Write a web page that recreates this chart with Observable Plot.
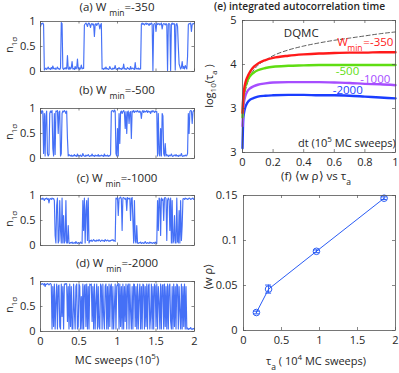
<!DOCTYPE html>
<html><head><meta charset="utf-8">
<script src="https://cdn.jsdelivr.net/npm/d3@7"></script>
<script src="https://cdn.jsdelivr.net/npm/@observablehq/plot@0.6"></script>
<style>
body{margin:0;background:#fff;}
#fig{position:relative;width:399px;height:373px;overflow:hidden;font-family:"Open Sans",sans-serif;color:#262626;}
#fig svg{position:absolute;overflow:visible;}
.abs{position:absolute;white-space:nowrap;font-size:11px;line-height:13px;}
.rot{transform:translate(-50%,-50%) rotate(-90deg);}
.sub{font-size:8.5px;position:relative;top:5px;}
.sup{font-size:8px;position:relative;top:-5px;}
</style></head><body><div id="fig"></div>
<script>
// ---------- data ----------
const tsXTicks = [0, 0.5, 1, 1.5, 2];
const tsXLabels = ["0", "0.5", "1", "1.5", "2"];
const tsYTicks = [0, 0.5, 1];
const tsYLabels = ["0", "0.5", "1"];
const panelTitles = ["(a) W", "(b) W", "(c) W", "(d) W"];
const panelWmin = ["=-350", "=-500", "=-1000", "=-2000"];

// n_1sigma time series, sampled every 0.01 x 10^5 MC sweeps (0..2)
const nA = [0.9,0.96,0.95,0.97,0.94,0.03,
0.05,0.07,0.04,0.06,0.09,0.05,0.06,0.04,0.08,0.05,0.11,0.06,0.05,0.07,0.04,0.06,0.09,0.05,0.06,0.04,0.07,
0.98,0.96,
0.06,0.04,0.07,0.05,0.08,0.05,0.32,0.06,0.04,0.09,0.05,0.07,0.2,0.05,0.06,0.04,0.1,0.05,0.07,0.25,0.05,0.08,0.04,0.06,0.13,0.05,0.07,0.06,
0.93,0.95,0.97,0.94,0.9,0.96,0.97,0.94,0.88,0.95,0.96,0.93,0.95,0.7,0.94,0.96,0.92,0.95,0.97,0.94,0.85,0.93,0.96,
0.05,0.06,0.04,0.07,0.05,0.09,0.05,0.06,0.04,0.05,0.1,0.06,0.05,0.04,0.07,0.05,0.06,0.12,0.05,0.04,0.06,0.05,0.08,0.05,0.06,0.04,0.07,0.05,0.15,0.05,0.06,0.04,0.05,0.08,0.06,0.05,0.04,0.1,0.05,0.06,0.07,0.05,0.04,0.18,0.05,0.06,0.05,0.07,0.04,0.06,0.05,
0.95,0.97,0.94,0.96,0.93,0.95,0.97,0.94,0.96,0.95,0.92,0.96,0.94,0.97,0.95,
0.02,
0.94,0.96,0.95,0.8,0.97,0.94,0.95,0.96,0.93,0.95,0.97,0.85,0.94,0.96,0.95,0.93,0.96,0.94,
0.02,0.95,0.96,0.94,0.02,0.95,0.97,0.94,0.96,0.95,0.03,0.94,0.96,0.9,0.5,
0.15,0.1,0.05,0.08,0.2,0.06,0.1,0.05,0.12,0.08,0.05,0.3,
0.94,0.96,0.95,0.97,0.8,0.94,0.96,0.95,0.97];

const nB = [0.95,0.9,0.96,0.94,
0.1,0.9,0.05,0.85,0.95,0.1,0.05,0.08,0.9,0.95,0.92,0.96,0.2,0.05,0.9,0.08,0.95,0.94,0.96,0.5,0.93,0.95,0.05,0.1,0.9,0.95,0.93,0.96,0.94,0.9,0.95,0.4,0.05,0.08,0.06,
0.05,0.07,0.04,0.06,0.05,0.08,0.05,0.06,0.04,0.09,0.05,0.06,0.05,0.07,0.04,0.05,0.1,0.06,0.05,0.04,0.07,0.05,0.06,0.08,0.05,0.04,0.06,0.05,0.09,0.05,0.06,0.04,0.07,0.05,0.06,0.05,0.08,0.04,0.06,0.05,0.07,0.05,0.06,0.04,0.09,0.05,0.06,0.05,0.07,0.04,0.06,0.05,0.08,
0.94,0.96,0.95,0.93,0.97,0.95,
0.1,0.05,0.6,0.05,0.9,0.3,
0.93,0.95,0.9,0.94,0.96,0.92,0.6,0.94,0.5,0.93,0.95,0.7,0.92,0.94,0.4,0.95,0.93,0.96,0.92,0.94,0.95,0.93,0.96,0.94,0.92,0.95,0.93,0.8,0.94,0.96,0.92,0.95,0.93,0.94,0.96,0.92,0.95,0.93,0.94,0.9,0.95,0.93,0.96,0.94,0.92,0.95,0.93,0.94,
0.05,0.9,0.1,0.05,0.6,0.05,0.9,0.85,0.1,0.05,0.3,
0.05,0.08,0.06,0.04,0.07,0.05,0.06,0.09,0.05,0.04,0.06,0.07,0.05,0.08,0.05,0.06,0.04,0.07,0.05,0.06,0.1,0.05,0.04,0.06,0.05,0.07,0.05,0.06,
0.1,0.9,0.5,0.94,0.96,0.95,0.7,0.93,0.96,0.95];

const nC = [0.93,0.94,0.92,0.95,0.93,0.9,0.94,0.93,0.95,0.92,0.94,0.85,0.93,0.94,0.92,0.95,0.93,0.94,
0.9,0.2,0.05,0.8,0.95,0.05,0.1,0.9,0.3,0.05,0.95,0.05,0.6,0.05,0.1,0.9,0.05,0.05,0.4,0.05,
0.04,0.06,0.05,0.07,0.04,0.05,0.06,0.04,0.08,0.05,0.04,0.06,0.05,0.04,0.07,0.05,0.04,
0.9,0.3,0.95,0.05,0.7,0.9,0.1,0.95,0.05,
0.1,0.09,0.11,0.08,0.1,0.12,0.09,0.1,0.08,0.11,0.1,0.09,0.12,0.1,0.08,0.1,0.11,0.09,0.1,0.08,0.12,0.1,0.09,0.11,0.1,0.08,0.1,0.09,0.11,0.1,0.12,0.09,0.1,0.08,
0.95,0.93,0.96,0.6,0.94,0.95,0.97,0.93,0.3,0.95,0.96,0.94,0.92,0.95,0.7,0.96,0.94,0.93,0.95,0.5,0.94,0.96,
0.5,0.05,0.9,0.1,0.05,0.4,
0.05,0.04,0.06,0.05,0.07,0.04,0.05,0.06,0.04,0.05,0.08,0.05,0.04,0.06,0.05,0.04,0.07,0.05,0.06,0.04,0.05,0.06,0.04,0.07,0.05,0.04,
0.9,0.3,0.95,0.92,0.2,0.95,0.9,0.93,0.5,0.95,0.96,0.94,0.1,0.9,0.95,0.92,0.3,0.95,
0.05,0.9,0.05,0.1,0.6,0.05,0.05,0.95,0.08,0.05,0.7,0.05,0.9,0.1,0.4,
0.93,0.94,0.92,0.95,0.93,0.94,0.92,0.93,0.95,0.94,0.92,0.93,0.94,0.95,0.92,0.93];

const nD = [0.95,0.94,0.96,0.95,0.93,0.96,0.9,0.95,0.94,0.96,0.95,0.93,0.95,0.96,0.94,
0.05,0.9,0.1,0.95,0.05,0.6,0.95,0.05,0.9,0.93,0.1,0.05,0.95,0.3,0.9,0.05,0.95,0.94,0.96,0.95,0.2,0.9,0.05,0.95,0.1,
0.9,0.05,0.05,0.95,0.4,0.05,0.9,0.95,0.05,0.1,0.95,0.9,0.05,0.7,0.05,0.95,0.05,0.9,0.94,0.1,0.95,0.05,0.9,0.05,0.95,
0.93,0.95,0.2,0.9,0.05,0.95,0.05,0.6,0.95,0.05,0.9,0.1,0.05,0.95,0.9,0.05,0.95,0.3,0.05,0.9,0.95,0.05,0.9,0.05,0.95,
0.1,0.9,0.95,0.05,0.9,0.05,0.5,0.95,0.05,0.9,0.94,0.96,0.05,0.95,0.1,0.9,0.05,0.95,0.05,0.9,0.2,0.95,0.05,0.9,0.95,
0.05,0.95,0.4,0.05,0.9,0.05,0.95,0.94,0.1,0.9,0.05,0.95,0.05,0.7,0.95,0.05,0.9,0.05,0.95,0.93,0.05,0.9,0.1,0.95,0.05,
0.9,0.95,0.05,0.3,0.95,0.05,0.9,0.05,0.95,0.9,0.1,0.95,0.05,0.9,0.6,0.05,0.95,0.05,0.9,0.94,0.05,0.95,0.1,0.9,0.05,
0.95,0.05,0.9,0.95,0.2,0.05,0.9,0.05,0.95,0.1,0.9,0.05,0.95,0.93,0.05,0.9,0.4,0.05,0.95,0.05,0.9,0.1,0.95,0.05,0.9,
0.05,0.07,0.04,0.06,0.05,0.08,0.05,0.04,0.06,0.05,0.07];

// (e) integrated autocorrelation time
const eX      = [0, 0.005, 0.01, 0.02, 0.03, 0.05, 0.075, 0.1, 0.15, 0.2, 0.3, 0.4, 0.5, 0.6, 0.7, 0.8, 0.9, 1.0];
const eDQMC   = [2.8, 3.0, 3.2, 3.42, 3.55, 3.74, 3.88, 3.98, 4.1, 4.2, 4.33, 4.42, 4.49, 4.55, 4.6, 4.65, 4.7, 4.74];
const eW350   = [2.9, 3.25, 3.42, 3.6, 3.7, 3.84, 3.95, 4.02, 4.1, 4.15, 4.2, 4.23, 4.25, 4.26, 4.27, 4.27, 4.28, 4.28];
const eW500   = [2.8, 3.2, 3.35, 3.52, 3.62, 3.74, 3.82, 3.87, 3.92, 3.95, 3.97, 3.98, 3.99, 3.99, 3.99, 3.99, 3.99, 3.99];
const eW1000  = [2.6, 3.0, 3.15, 3.3, 3.38, 3.46, 3.51, 3.54, 3.57, 3.59, 3.6, 3.6, 3.6, 3.59, 3.58, 3.56, 3.55, 3.53];
const eW2000  = [2.1, 2.75, 2.9, 3.05, 3.12, 3.2, 3.24, 3.27, 3.29, 3.3, 3.31, 3.31, 3.3, 3.3, 3.29, 3.27, 3.25, 3.23];
const eXTicks = [0, 0.2, 0.4, 0.6, 0.8, 1];
const eXLabels = ["0", "0.2", "0.4", "0.6", "0.8", "1"];
const eYTicks = [2, 3, 4, 5];
const eYLabels = ["3", "3", "4", "5"];
const eLabelText = ["DQMC", "W", "min", "=-350", "-500", "-1000", "-2000"];
const eLabelX = [0.27, 0.62, 0.685, 0.79, 0.61, 0.77, 0.59];
const eLabelY = [4.7, 4.51, 4.36, 4.51, 3.85, 3.66, 3.42];

// (f) <w rho> vs tau_a
const fTau = [0.17, 0.33, 0.96, 1.85];
const fWrho = [0.020, 0.046, 0.088, 0.147];
const fErr = [0.0015, 0.0045, 0.0015, 0.0015];
const fXTicks = [0, 0.5, 1, 1.5, 2];
const fXLabels = ["0", "0.5", "1", "1.5", "2"];
const fYTicks = [0, 0.05, 0.1, 0.15];
const fYLabels = ["0", "0.05", "0.1", "0.15"];

// ---------- drawing ----------
const fig = document.getElementById("fig");
const FONT = '"Open Sans", sans-serif';
const TXT = "#262626";
const FRAME = "#555";
const TSBLUE = "#2457f5";

function lab(ticks, labels) { const m = new Map(ticks.map((t, i) => [t, labels[i]])); return d => m.get(d) ?? ""; }
function place(svg, left, top) { svg.style.left = left + "px"; svg.style.top = top + "px"; fig.appendChild(svg); }
function html(str, left, top, cls = "", extra = "") {
  const d = document.createElement("div");
  d.className = "abs " + cls; d.innerHTML = str;
  d.style.left = left + "px"; d.style.top = top + "px";
  if (extra) d.style.cssText += extra;
  fig.appendChild(d); return d;
}
function inwardTicks(xt, yt, pw, ph, len = 3) {
  return [
    Plot.ruleY(yt, {y: d => d, insetRight: pw - len, stroke: FRAME, strokeWidth: 0.7}),
    Plot.ruleY(yt, {y: d => d, insetLeft: pw - len, stroke: FRAME, strokeWidth: 0.7}),
    Plot.ruleX(xt, {x: d => d, insetTop: ph - len, stroke: FRAME, strokeWidth: 0.7}),
    Plot.ruleX(xt, {x: d => d, insetBottom: ph - len, stroke: FRAME, strokeWidth: 0.7})
  ];
}

const tsData = [nA, nB, nC, nD];
const tsTop = [21, 108, 195, 281];
const tsTitleTop = [0, 83, 171, 256];
const PW = 154, PH = 50;
tsData.forEach((vals, k) => {
  const last = k === 3;
  const data = vals.map((v, i) => ({x: i * 2 / (vals.length - 1), y: v}));
  const svg = Plot.plot({
    width: 40 + PW + 6, height: 4 + PH + (last ? 22 : 4),
    marginLeft: 40, marginRight: 6, marginTop: 4, marginBottom: last ? 22 : 4,
    style: {fontFamily: FONT, fontSize: "11px", color: TXT, background: "transparent"},
    x: {domain: [0, 2]},
    y: {domain: [0, 1]},
    marks: [
      Plot.line(data, {x: "x", y: "y", stroke: TSBLUE, strokeWidth: 1.15, strokeOpacity: 0.85}),
      Plot.frame({stroke: FRAME, strokeWidth: 0.8}),
      ...inwardTicks(tsXTicks, tsYTicks, PW, PH, 2.5),
      Plot.axisY({ticks: tsYTicks, tickFormat: lab(tsYTicks, tsYLabels), tickSize: 0, tickPadding: 5, label: null, fill: TXT}),
      last ? Plot.axisX({ticks: tsXTicks, tickFormat: lab(tsXTicks, tsXLabels), tickSize: 0, tickPadding: 6, label: null, fill: TXT}) : Plot.axisX({ticks: [], label: null})
    ]
  });
  place(svg, 0, tsTop[k] - 4);
  html(panelTitles[k] + ' <span class="sub">min</span>' + panelWmin[k], 40, tsTitleTop[k], "", "width:154px;text-align:center;font-size:11.5px;line-height:14px;");
  html('n<span class="sub" style="font-size:8px;top:4px">1σ</span>', 9, tsTop[k] + 24, "rot");
});
html('MC sweeps (10<span class="sup">5</span>)', 117, 360, "", "transform:translate(-50%,-50%);");

// (e)
{
  const pw = 153, ph = 132;
  const series = [
    {v: eW2000, c: "#1a3dff"}, {v: eW1000, c: "#a64dff"}, {v: eW500, c: "#5fdd12"}, {v: eW350, c: "#ff1a1a"}
  ];
  const labColors = ["#262626", "#ff1a1a", "#ff1a1a", "#ff1a1a", "#5fdd12", "#a64dff", "#1a3dff"];
  const labData = eLabelText.map((t, i) => ({t, x: eLabelX[i], y: eLabelY[i], c: labColors[i], s: t === "min" ? 8.5 : 11.5}));
  const svg = Plot.plot({
    width: 42 + pw + 4, height: 5 + ph + 20,
    marginLeft: 42, marginRight: 4, marginTop: 5, marginBottom: 20,
    style: {fontFamily: FONT, fontSize: "11px", color: TXT, background: "transparent"},
    x: {domain: [0, 1]},
    y: {domain: [2, 5]},
    marks: [
      Plot.line(eX.map((x, i) => ({x, y: eDQMC[i]})), {x: "x", y: "y", stroke: "#333", strokeWidth: 0.8, strokeDasharray: "4,2.5", curve: "monotone-x"}),
      ...series.map(s => Plot.line(eX.map((x, i) => ({x, y: s.v[i]})), {x: "x", y: "y", stroke: s.c, strokeWidth: 2.4, curve: "monotone-x"})),
      Plot.text(labData, {x: "x", y: "y", text: "t", fill: "c", fontSize: "s", textAnchor: "start"}),
      Plot.frame({stroke: FRAME, strokeWidth: 0.8}),
      ...inwardTicks(eXTicks, eYTicks, pw, ph, 3),
      Plot.axisY({ticks: eYTicks, tickFormat: lab(eYTicks, eYLabels), tickSize: 0, tickPadding: 6, label: null, fill: TXT}),
      Plot.axisX({ticks: eXTicks, tickFormat: lab(eXTicks, eXLabels), tickSize: 0, tickPadding: 6, label: null, fill: TXT})
    ]
  });
  place(svg, 200, 15);
  html("(e) integrated autocorrelation time", 214, 1, "", "font-weight:600;font-size:10.2px;line-height:11px;");
  html('log<span class="sub" style="font-size:8px;top:3px">10</span>(τ<span class="sub" style="font-size:8px;top:4px">a</span> )', 209, 86, "rot");
  html('dt (10<span class="sup">5</span> MC sweeps)', 298, 136, "", "font-size:11px;");
}

// (f)
{
  const pw = 152, ph = 135;
  const pts = fTau.map((x, i) => ({x, y: fWrho[i], lo: fWrho[i] - fErr[i], hi: fWrho[i] + fErr[i]}));
  const svg = Plot.plot({
    width: 43 + pw + 4, height: 5 + ph + 22,
    marginLeft: 43, marginRight: 4, marginTop: 5, marginBottom: 22,
    style: {fontFamily: FONT, fontSize: "11px", color: TXT, background: "transparent"},
    x: {domain: [0, 2]},
    y: {domain: [0, 0.15]},
    marks: [
      Plot.line(pts, {x: "x", y: "y", stroke: "#2a5cf5", strokeWidth: 1}),
      Plot.ruleX(pts, {x: "x", y1: "lo", y2: "hi", stroke: "#2a5cf5", strokeWidth: 1}),
      Plot.ruleY(pts, {y: "lo", x1: "x", x2: "x", insetLeft: -3, insetRight: -3, stroke: "#2a5cf5", strokeWidth: 1}),
      Plot.ruleY(pts, {y: "hi", x1: "x", x2: "x", insetLeft: -3, insetRight: -3, stroke: "#2a5cf5", strokeWidth: 1}),
      Plot.dot(pts, {x: "x", y: "y", r: 3.3, stroke: "#2a5cf5", strokeWidth: 1, fill: "none"}),
      Plot.frame({stroke: FRAME, strokeWidth: 0.8}),
      ...inwardTicks(fXTicks, fYTicks, pw, ph, 3),
      Plot.axisY({ticks: fYTicks, tickFormat: lab(fYTicks, fYLabels), tickSize: 0, tickPadding: 6, label: null, fill: TXT}),
      Plot.axisX({ticks: fXTicks, tickFormat: lab(fXTicks, fXLabels), tickSize: 0, tickPadding: 6, label: null, fill: TXT})
    ]
  });
  place(svg, 200, 190);
  html('(f) ⟨w ρ⟩ vs τ<span class="sub">a</span>', 316, 176, "", "transform:translate(-50%,-50%);font-size:11.5px;");
  html('⟨w ρ⟩', 207, 277, "rot");
  html('τ<span class="sub">a</span> ( 10<span class="sup">4</span> MC sweeps)', 316, 361, "", "transform:translate(-50%,-50%);");
}
</script></body></html>
